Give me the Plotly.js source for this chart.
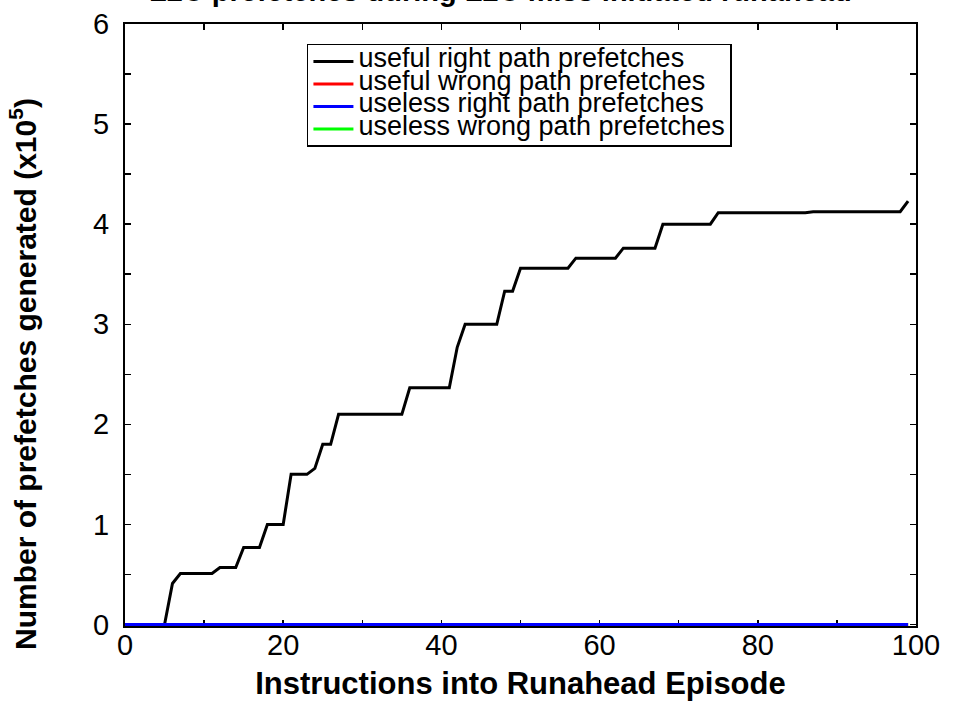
<!DOCTYPE html>
<html>
<head>
<meta charset="utf-8">
<script src="https://cdn.plot.ly/plotly-3.0.1.min.js"></script>
<style>
html,body{margin:0;padding:0;background:#fff;}
#chart{width:953px;height:702px;}
</style>
</head>
<body>
<div id="chart"></div>
<script>
// Instructions into runahead episode (x) and prefetch counts (x10^5)
const usefulRightX = [0, 5, 6, 7, 11, 12, 14, 15, 17, 18, 20, 21, 23, 24, 25, 26, 27, 35, 36, 41, 42, 43, 47, 48, 49, 50, 56, 57, 62, 63, 67, 68, 74, 75, 86, 87, 98, 99];
const usefulRightY = [0, 0, 0.41, 0.51, 0.51, 0.57, 0.57, 0.77, 0.77, 1.0, 1.0, 1.5, 1.5, 1.56, 1.8, 1.8, 2.1, 2.1, 2.365, 2.365, 2.77, 3.0, 3.0, 3.33, 3.33, 3.56, 3.56, 3.66, 3.66, 3.76, 3.76, 4.0, 4.0, 4.115, 4.115, 4.125, 4.125, 4.23];
const zeroX = [0, 99];
const usefulWrongY = [0, 0];
const uselessRightY = [0, 0];
const uselessWrongY = [0, 0];
const seriesNames = ["useful right path prefetches", "useful wrong path prefetches", "useless right path prefetches", "useless wrong path prefetches"];
const xTickVals = [0, 20, 40, 60, 80, 100];
const yTickVals = [0, 1, 2, 3, 4, 5, 6];

const FONT = "Arial, Liberation Sans, sans-serif";
const legName = s => '<span style="font-size:27px">' + s + '</span>';

const traces = [
  {x: usefulRightX, y: usefulRightY, name: legName(seriesNames[0]), legendrank: 1, mode: "lines", line: {color: "#000000", width: 3}},
  {x: zeroX, y: usefulWrongY, name: legName(seriesNames[1]), legendrank: 2, mode: "lines", line: {color: "#ff0000", width: 3}},
  {x: zeroX, y: uselessWrongY, name: legName(seriesNames[3]), legendrank: 4, mode: "lines", line: {color: "#00ff00", width: 3}},
  {x: zeroX, y: uselessRightY, name: legName(seriesNames[2]), legendrank: 3, mode: "lines", line: {color: "#0000ff", width: 3}}
];

const axisCommon = {
  showline: true, linecolor: "#000", linewidth: 2, mirror: "ticks",
  ticks: "inside", ticklen: 6, tickwidth: 1.5, tickcolor: "#000",
  showgrid: false, zeroline: false,
  tickfont: {family: FONT, size: 29, color: "#000"},
  layer: "below traces"
};

const layout = {
  width: 953, height: 702,
  margin: {l: 125, r: 37, t: 24, b: 76},
  paper_bgcolor: "#fff", plot_bgcolor: "#fff",
  title: {text: "<b>L2C prefetches during L2C miss initiated runahead</b>", font: {family: FONT, size: 29, color: "#000"}, yref: "container", y: 0.998, yanchor: "bottom", x: 0.525, xanchor: "center"},
  xaxis: Object.assign({}, axisCommon, {
    range: [0, 100], tickmode: "array", tickvals: xTickVals, ticktext: xTickVals.map(String),
    minor: {dtick: 10, ticks: "inside", ticklen: 6, tickcolor: "#000", tickwidth: 1.5},
    ticklabelstandoff: -8,
    title: {text: "<b>Instructions into Runahead Episode</b>", font: {family: FONT, size: 31, color: "#000"}, standoff: 13}
  }),
  yaxis: Object.assign({}, axisCommon, {
    range: [-0.015, 6], tickmode: "array", tickvals: yTickVals, ticktext: yTickVals.map(String),
    minor: {dtick: 0.5, ticks: "inside", ticklen: 6, tickcolor: "#000", tickwidth: 1.5},
    ticklabelstandoff: 8
  }),
  annotations: [{
    text: "<b>Number of prefetches generated (x10<sup>5</sup>)</b>",
    xref: "paper", yref: "paper", x: -0.129, y: 0.4186, xanchor: "center", yanchor: "middle",
    textangle: -90, showarrow: false,
    font: {family: FONT, size: 30, color: "#000"}
  }],
  showlegend: true,
  legend: {
    x: 0.230, y: 0.967, xanchor: "left", yanchor: "top",
    bgcolor: "#fff", bordercolor: "#000", borderwidth: 1.5,
    font: {family: FONT, size: 15, color: "#000"},
    traceorder: "normal", itemwidth: 40, tracegroupgap: 0
  }
};

Plotly.newPlot("chart", traces, layout, {displayModeBar: false, staticPlot: true});
</script>
</body>
</html>
